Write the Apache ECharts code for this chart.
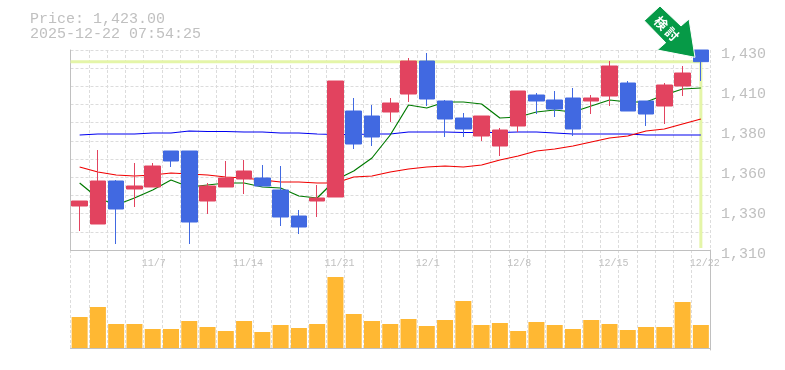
<!DOCTYPE html>
<html><head><meta charset="utf-8">
<style>html,body{margin:0;padding:0;background:#fff}#c{width:785px;height:370px}</style>
<script src="https://cdn.jsdelivr.net/npm/echarts@6/dist/echarts.min.js"></script>
</head><body><div id="c"></div>
<script>
const categories=['10/31','11/4','11/5','11/6','11/7','11/10','11/11','11/12','11/13','11/14','11/17','11/18','11/19','11/20','11/21','11/25','11/26','11/27','11/28','12/1','12/2','12/3','12/4','12/5','12/8','12/9','12/10','12/11','12/12','12/15','12/16','12/17','12/18','12/19','12/22'];
const dateTicks=['11/7','11/14','11/21','12/1','12/8','12/15','12/22'];
const priceTicks=['1,310','1,330','1,360','1,380','1,410','1,430'];
// [open, close, low, high]
const candles=[
[1336.4,1339.4,1321.4,1339.4],[1325.6,1351.4,1325.6,1370],[1351.4,1334.6,1313.6,1352],[1346.6,1348.4,1335.8,1362.2],[1347.8,1360.4,1347.8,1362.2],
[1369.4,1363.4,1359.8,1369.4],[1369.4,1326.8,1313.6,1369.4],[1339.4,1348.4,1331.6,1350.2],[1347.8,1353.2,1347.8,1363.4],[1352.6,1357.4,1343.6,1364],
[1353.2,1348.4,1348.4,1361],[1346,1329.8,1324.4,1360.4],[1330.4,1323.8,1319.6,1334],[1339.4,1341.2,1329.8,1349],[1341.8,1411.4,1341.8,1411.4],
[1393.4,1373.6,1370.6,1401.2],[1390.4,1377.8,1372.4,1397],[1392.8,1398.2,1386.8,1401.2],[1403.6,1423.4,1398.8,1425.2],[1423.4,1400.6,1396.4,1428.2],
[1399.4,1388.6,1377.8,1400],[1389.2,1382.6,1377.8,1392.2],[1378.4,1390.4,1375.4,1390.4],[1372.4,1382,1366.4,1383.2],[1384.4,1405.4,1380.8,1405.4],
[1403,1399.4,1391.6,1404.2],[1400,1394.6,1389.8,1405.4],[1401.2,1382.6,1378.4,1407.2],[1399.4,1401.2,1391.6,1403],[1402.4,1420.4,1396.4,1423.4],
[1410.2,1393.4,1393.4,1411.4],[1399.4,1391.6,1384.4,1399.4],[1396.4,1409,1385.6,1410.2],[1408.4,1416.2,1402.4,1420.4],[1430,1423,1411.4,1430]];
const maShort=[1350.2,1341.2,1337,1341.2,1346,1352,1347.8,1349,1350.2,1350.2,1347.8,1347.2,1342.4,1341.2,1352,1357.4,1365.2,1379,1397,1395.2,1398.8,1398.8,1397.6,1389.2,1389.8,1392.8,1394,1392.8,1396.4,1400,1398.8,1398.8,1403,1406.6,1407.2];
const maMid=[1359.8,1356.8,1355,1354.4,1355,1356.2,1355.6,1355,1353.8,1353.2,1352,1350.8,1350.8,1350.2,1350.2,1353.8,1354.4,1356.8,1358.6,1359.8,1360.4,1359.8,1361,1364,1366.4,1369.4,1370.6,1372.4,1374.8,1377.2,1378.4,1381.4,1382.6,1385.6,1388.6];
const maLong=[1379,1379.6,1379.6,1379.6,1380.2,1380.2,1381.4,1381.1,1381.1,1380.8,1380.8,1380.2,1380.2,1379.6,1379.3,1379.3,1379.6,1379.6,1380.8,1380.8,1380.8,1380.5,1380.5,1380.5,1380.8,1380.8,1380.2,1379.6,1379.6,1379.6,1379.6,1379,1379,1379,1379];
const volumes=[31,41,24,24,19,19,27,21,17,27,16,23,20,24,71,34,27,24,29,22,28,47,23,25,17,26,23,19,28,24,18,21,21,46,23];
const currentPrice=1423;
const priceFloor=1311.2;
const headerLines=['Price: 1,423.00','2025-12-22 07:54:25'];
const arrowLabel=['検','討'];

const GRAY='#c0c0c0',GRID='#dcdcdc',RED='#e2435f',BLUE='#4169e1',FONT='"Liberation Mono",monospace';
const chart=echarts.init(document.getElementById('c'),null,{renderer:'canvas'});
const splitDash={show:true,lineStyle:{color:GRID,type:[3,2],width:1}};
const n=categories.length;
chart.setOption({
 animation:false,
 title:{text:headerLines.join('\n'),left:30,top:12,padding:0,textStyle:{fontFamily:FONT,fontSize:15,fontWeight:'normal',color:GRAY,lineHeight:15}},
 grid:[{left:70.5,width:639.5,top:50,height:200},{left:70.5,width:639.5,top:250,height:100},{left:70.5,width:639.5,top:54,height:200}],
 xAxis:[
  {type:'category',gridIndex:0,data:categories,boundaryGap:true,axisTick:{show:false},
   axisLine:{lineStyle:{color:GRAY,width:1}},splitLine:Object.assign({interval:0},splitDash),
   axisLabel:{interval:(i,v)=>dateTicks.includes(v),hideOverlap:false,showMinLabel:true,showMaxLabel:true,color:GRAY,fontFamily:FONT,fontSize:10,margin:8,padding:[0,0,0,8],formatter:v=>v.padEnd(5,' ')}},
  {type:'category',gridIndex:1,data:categories,boundaryGap:true,axisTick:{show:false},
   axisLine:{lineStyle:{color:GRAY,width:1}},splitLine:Object.assign({interval:0},splitDash),axisLabel:{show:false}},
  {type:'value',gridIndex:0,min:0,max:n,show:false},
  {type:'value',gridIndex:2,min:0,max:n,show:false}
 ],
 yAxis:[
  {type:'value',gridIndex:0,min:1310,max:1430,show:true,position:'right',scale:true,interval:120,axisLabel:{show:false},axisTick:{show:false},splitLine:{show:false},axisLine:{show:true,lineStyle:{color:GRAY,width:1}}},
  {type:'value',gridIndex:0,min:0,max:11,interval:1,position:'left',axisLabel:{show:false},axisTick:{show:false},axisLine:{show:false},splitLine:splitDash},
  {type:'value',gridIndex:2,min:0,max:5,interval:1,position:'right',axisTick:{show:false},axisLine:{show:false},splitLine:{show:false},
   axisLabel:{margin:11,color:GRAY,fontFamily:FONT,fontSize:15,formatter:v=>priceTicks[v]}},
  {type:'value',gridIndex:1,min:-2,max:98,position:'right',interval:100,axisLabel:{show:false},axisTick:{show:false},splitLine:{show:false},axisLine:{show:true,lineStyle:{color:GRAY,width:1}}}
 ],
 series:[
  {name:'now-h',type:'line',xAxisIndex:2,yAxisIndex:0,z:1,symbol:'none',silent:true,lineStyle:{color:'#e4f5a8',width:3},data:[[0,currentPrice],[n-0.5,currentPrice]]},
  {name:'now-v',type:'line',xAxisIndex:2,yAxisIndex:0,z:1,symbol:'none',silent:true,lineStyle:{color:'#e4f5a8',width:3},data:[[n-0.5,currentPrice],[n-0.5,priceFloor]]},
  {name:'long',type:'line',xAxisIndex:0,yAxisIndex:0,z:2,symbol:'none',lineStyle:{color:'#0000f0',width:1.2},data:maLong},
  {name:'mid',type:'line',xAxisIndex:0,yAxisIndex:0,z:2,symbol:'none',lineStyle:{color:'#f00000',width:1.2},data:maMid},
  {name:'short',type:'line',xAxisIndex:0,yAxisIndex:0,z:2,symbol:'none',lineStyle:{color:'#007a00',width:1.2},data:maShort},
  {name:'candles',type:'candlestick',xAxisIndex:0,yAxisIndex:0,z:3,barWidth:16,data:candles,
   itemStyle:{color:RED,color0:BLUE,borderColor:RED,borderColor0:BLUE,borderWidth:1}},
  {name:'volume',type:'bar',xAxisIndex:1,yAxisIndex:3,barWidth:16,itemStyle:{color:'#ffb833'},data:volumes}
 ],
 graphic:[
  {type:'polygon',z:100,shape:{points:[[660,6],[644.3,20.7],[665.7,42.7],[657.3,50],[695,57.3],[689,19],[681,26]]},style:{fill:'#069a47',stroke:'#fff',lineWidth:1}},
  {type:'text',z:101,x:661,y:23,rotation:-Math.PI/4,style:{text:arrowLabel[0],fill:'#fff',font:'bold 13px "Noto Sans CJK JP"',align:'center',verticalAlign:'middle'}},
  {type:'text',z:101,x:672,y:34,rotation:-Math.PI/4,style:{text:arrowLabel[1],fill:'#fff',font:'bold 13px "Noto Sans CJK JP"',align:'center',verticalAlign:'middle'}}
 ]
});
</script></body></html>
